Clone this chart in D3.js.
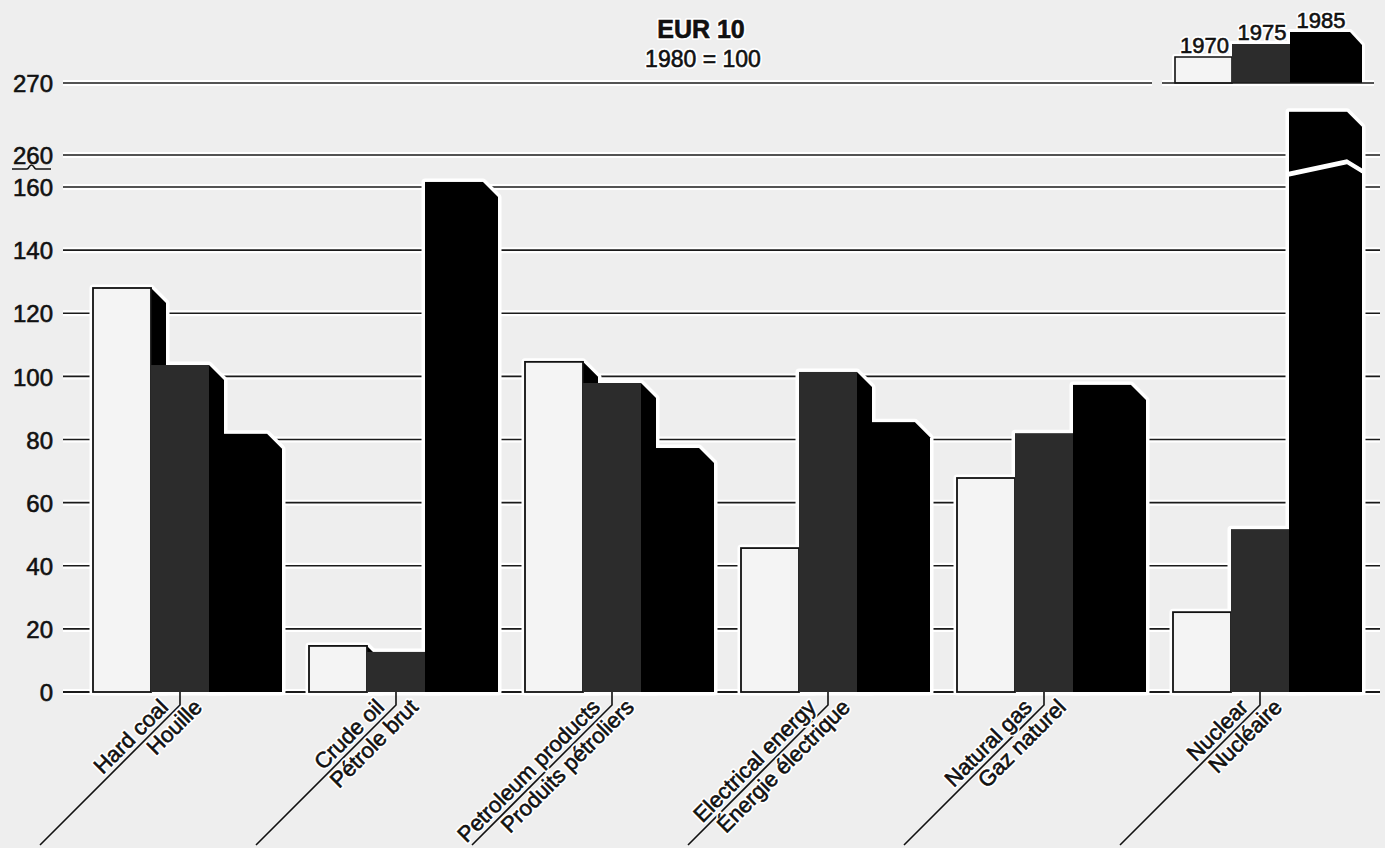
<!DOCTYPE html>
<html>
<head>
<meta charset="utf-8">
<script src="https://cdn.jsdelivr.net/npm/d3@7"></script>
<style>
  html, body { margin: 0; padding: 0; background: #eeeeee; }
  svg { display: block; }
  text { font-family: "Liberation Sans", Arial, Helvetica, sans-serif; fill: #111; }
</style>
</head>
<body>
<svg id="chart" width="1385" height="848"></svg>
<script>
// ---- data ----
const categoriesEn = ["Hard coal", "Crude oil", "Petroleum products", "Electrical energy", "Natural gas", "Nuclear"];
const categoriesFr = ["Houille", "Pétrole brut", "Produits pétroliers", "Énergie électrique", "Gaz naturel", "Nucléaire"];
const years = ["1970", "1975", "1985"];
const values1970 = [128, 14.6, 104.6, 45.6, 67.8, 25.3];
const values1975 = [103.6, 12.7, 97.9, 101.4, 82, 51.6];
const values1985 = [81.8, 161.6, 77.3, 85.5, 97.3, 266];
const lowTicks = [0, 20, 40, 60, 80, 100, 120, 140, 160];
const highTicks = [260, 270];
const titleText = "EUR 10";
const subtitleText = "1980 = 100";
const breakValue = 165;

// ---- layout / style ----
const W = 1385, H = 848;
const fills = { "1970": "#f4f4f4", "1975": "#2c2c2c", "1985": "#000000" };
const sideDepth = 15;

const svg = d3.select("#chart");
svg.append("rect").attr("width", W).attr("height", H).attr("fill", "#eeeeee");

const yLow = d3.scaleLinear().domain([0, 160]).range([692, 187]);
const yHigh = d3.scaleLinear().domain([260, 270]).range([155, 83]);
const y = v => (v >= 260 ? yHigh(v) : yLow(v));

const x = d3.scaleBand().domain(categoriesEn).range([93, 1347]).paddingInner(42 / 216).paddingOuter(0);
const xs = d3.scaleBand().domain(years).range([0, x.bandwidth()]);

const series = { "1970": values1970, "1975": values1975, "1985": values1985 };
const bars = [];
categoriesEn.forEach((c, i) => {
  years.forEach(yr => bars.push({ cat: c, i, year: yr, value: series[yr][i] }));
});

// text helper: white halo + slightly heavier ink
function haloText(sel, str, attrs) {
  const a = sel.append("text").text(str);
  const b = sel.append("text").text(str);
  Object.entries(attrs).forEach(([k, v]) => { a.attr(k, v); b.attr(k, v); });
  a.attr("stroke", "#ffffff").attr("stroke-width", 4).attr("stroke-linejoin", "round").attr("fill", "#ffffff");
  b.attr("stroke", "#111").attr("stroke-width", 0.6).attr("fill", "#111");
  return b;
}

// ---- gridlines ----
const gridData = lowTicks.concat(highTicks).map(v => ({ v, x2: v === 270 ? 1152 : 1380 }));
const grid = svg.append("g");
grid.selectAll("line.halo").data(gridData).join("line")
  .attr("x1", 63).attr("x2", d => d.x2)
  .attr("y1", d => y(d.v)).attr("y2", d => y(d.v))
  .attr("stroke", "#ffffff").attr("stroke-width", 6);
grid.selectAll("line.g").data(gridData).join("line")
  .attr("x1", 63).attr("x2", d => d.x2)
  .attr("y1", d => y(d.v)).attr("y2", d => y(d.v))
  .attr("stroke", "#1a1a1a").attr("stroke-width", d => d.v === 0 ? 2.2 : 1.6);

// ---- y axis labels ----
const axLow = d3.axisLeft(yLow).tickValues(lowTicks).tickSize(0).tickPadding(0);
const axHigh = d3.axisLeft(yHigh).tickValues(highTicks).tickSize(0).tickPadding(0);
[axLow, axHigh].forEach(ax => {
  const g = svg.append("g").attr("transform", "translate(53,0)").call(ax);
  g.select(".domain").remove();
  g.selectAll("text")
    .attr("font-size", 24)
    .attr("fill", "#111")
    .style("font-family", "'Liberation Sans', Arial, sans-serif")
    .attr("stroke", "#111").attr("stroke-width", 0.6)
    .attr("dy", "0.36em");
});
// axis break symbol
svg.append("path")
  .attr("d", "M12,169 H27 C29,169 29,165 31.5,165 C34,165 34,169 36,169 H51")
  .attr("fill", "none").attr("stroke", "#111").attr("stroke-width", 1.6);

// ---- bars ----
function sidePts(d) {
  const x1 = x(d.cat) + xs(d.year) + xs.bandwidth();
  const yt = y(d.value), y0 = y(0);
  return [[x1, yt], [x1 + sideDepth, yt + sideDepth], [x1 + sideDepth, y0], [x1, y0]];
}
function outlinePts(d) {
  const x0 = x(d.cat) + xs(d.year);
  const x1 = x0 + xs.bandwidth();
  const yt = y(d.value), y0 = y(0);
  return [[x0, y0], [x0, yt], [x1, yt], [x1 + sideDepth, yt + sideDepth], [x1 + sideDepth, y0]];
}
const line = d3.line();
const barLayer = svg.append("g");
barLayer.selectAll("path.halo").data(bars).join("path")
  .attr("d", d => line(outlinePts(d)) + "Z")
  .attr("fill", "#ffffff").attr("stroke", "#ffffff").attr("stroke-width", 7).attr("stroke-linejoin", "round");
const bg = barLayer.selectAll("g.bar").data(bars).join("g");
bg.append("path")
  .attr("d", d => line(sidePts(d)) + "Z")
  .attr("fill", "#000");
bg.append("rect")
  .attr("x", d => x(d.cat) + xs(d.year))
  .attr("y", d => y(d.value))
  .attr("width", xs.bandwidth())
  .attr("height", d => y(0) - y(d.value))
  .attr("fill", d => fills[d.year])
  .attr("stroke", d => d.year === "1970" ? "#111" : "none")
  .attr("stroke-width", 1.8);

// break stripe on bars exceeding the lower scale
const broken = bars.filter(d => d.value > 200);
barLayer.selectAll("path.brk").data(broken).join("path")
  .attr("d", d => {
    const x0 = x(d.cat) + xs(d.year);
    const x1 = x0 + xs.bandwidth();
    const yb = y(breakValue);
    return line([[x0 - 3, yb + 1], [x1, yb - 12], [x1 + sideDepth + 3, yb - 1],
                 [x1 + sideDepth + 3, yb + 4], [x1, yb - 7], [x0 - 3, yb + 6]]) + "Z";
  })
  .attr("fill", "#ffffff");

// ---- category labels ----
const labels = svg.append("g");
categoriesEn.forEach((c, i) => {
  const bx = x(c) + xs("1975") + xs.bandwidth() / 2;
  const by = 705;
  labels.append("path")
    .attr("d", `M${bx},${y(0)} V${by} L${bx - 140},${by + 140}`)
    .attr("fill", "none").attr("stroke", "#111").attr("stroke-width", 1.6);
  const g = labels.append("g").attr("transform", `translate(${bx},${by}) rotate(-45)`);
  haloText(g, c, { x: -10, y: -5, "text-anchor": "end", "font-size": 22 });
  haloText(g, categoriesFr[i], { x: 14, y: 19, "text-anchor": "end", "font-size": 22 });
});

// ---- title ----
haloText(svg, titleText, { x: 701, y: 38, "text-anchor": "middle", "font-size": 25, "font-weight": "bold" });
haloText(svg, subtitleText, { x: 703, y: 67, "text-anchor": "middle", "font-size": 23 });

// ---- legend ----
const legendBoxes = [
  { year: "1970", x0: 1175, x1: 1232, top: 57 },
  { year: "1975", x0: 1232, x1: 1290, top: 44 },
  { year: "1985", x0: 1290, x1: 1350, top: 32 }
];
const boxPath = d => d.year === "1985"
  ? `M${d.x0},83 V${d.top} H${d.x1} L${d.x1 + 12},${d.top + 13} V83 Z`
  : `M${d.x0},83 V${d.top} H${d.x1} V83 Z`;
const lg = svg.append("g");
lg.append("line").attr("x1", 1162).attr("x2", 1374).attr("y1", 83).attr("y2", 83)
  .attr("stroke", "#ffffff").attr("stroke-width", 6);
lg.selectAll("path.lh").data(legendBoxes).join("path")
  .attr("d", boxPath)
  .attr("fill", "#fff").attr("stroke", "#fff").attr("stroke-width", 6).attr("stroke-linejoin", "round");
lg.selectAll("path.lb").data(legendBoxes).join("path")
  .attr("d", boxPath)
  .attr("fill", d => fills[d.year])
  .attr("stroke", d => d.year === "1970" ? "#111" : "none").attr("stroke-width", 1.6);
lg.append("line").attr("x1", 1162).attr("x2", 1374).attr("y1", 83).attr("y2", 83)
  .attr("stroke", "#1a1a1a").attr("stroke-width", 1.6);
legendBoxes.forEach(d => {
  haloText(lg, d.year, { x: (d.x0 + d.x1) / 2 + 1, y: d.top - 4, "text-anchor": "middle", "font-size": 22 });
});
</script>
</body>
</html>
